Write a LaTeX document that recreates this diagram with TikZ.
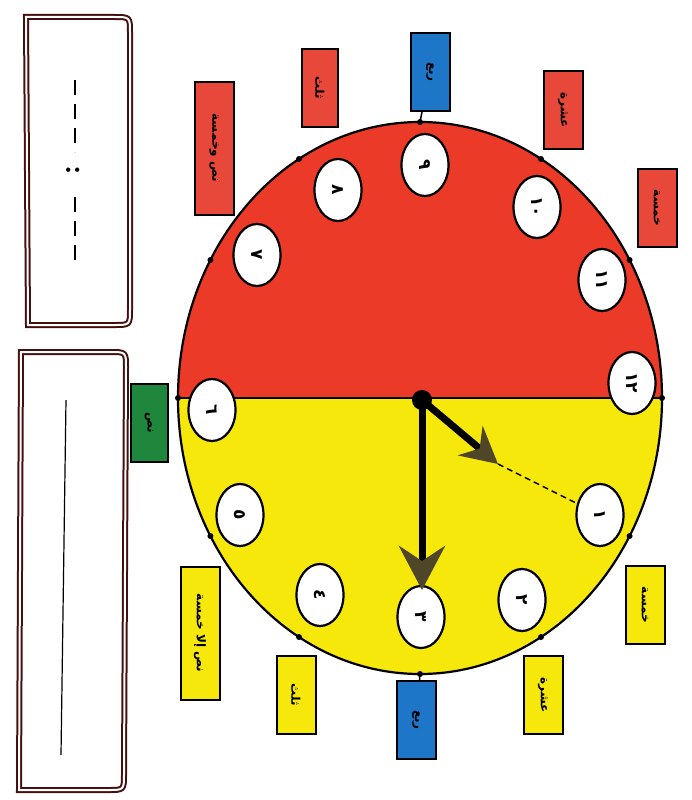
\documentclass[tikz,border=0pt]{standalone}
\usepackage{fontspec}
\newfontfamily\arabicfont[Script=Arabic]{DejaVu Sans}
\TeXXeTstate=1
\usetikzlibrary{arrows.meta,positioning,shapes.geometric}
\definecolor{clockred}{RGB}{236,58,40}
\definecolor{clockyellow}{RGB}{247,232,12}
\definecolor{tagred}{RGB}{232,72,58}
\definecolor{tagblue}{RGB}{30,118,200}
\definecolor{taggreen}{RGB}{30,135,60}
\definecolor{handtip}{RGB}{78,70,38}
\definecolor{panelline}{RGB}{70,15,15}
\newcommand{\ar}[1]{{\arabicfont\beginR #1\endR}}

\begin{document}
\begin{tikzpicture}[x=1pt,y=-1pt,
  num/.style={ellipse,draw,line width=2.2pt,fill=white,minimum width=62pt,minimum height=47pt,inner sep=0pt,rotate=-90,font=\arabicfont\bfseries\fontsize{17}{17}\selectfont},
  tag/.style={draw,line width=2pt,minimum width=78pt,minimum height=39pt,inner sep=2pt,rotate=-90,font=\arabicfont\bfseries\fontsize{12}{12}\selectfont},
  tall/.style={tag,minimum width=133pt},
  panel/.style={draw=panelline,double=white,double distance=2pt,line width=2pt},
  hand/.style={line width=7pt,-{Stealth[length=44pt,width=46pt,inset=15pt,color=handtip]}}]
\useasboundingbox (0,0) rectangle (691,800);

% left panels
\draw[panel] (26,17) -- (114,17) .. controls (130,17) .. (130,33) -- (130,309) .. controls (130,325) .. (114,325) -- (28,325) -- cycle;
\draw[line width=1.8pt,dash pattern=on 15pt off 9pt] (75,80) -- (75,152);
\node[rotate=-90,font=\bfseries\fontsize{30}{30}\selectfont] (colon) at (73,170) {:};
\draw[line width=1.8pt,dash pattern=on 15pt off 9pt] (75,197) -- (75,265);
\draw[panel] (21,352) -- (110,352) .. controls (126,352) .. (126,368) -- (124,774) .. controls (124,790) .. (108,790) -- (19,790) -- cycle;
\draw[line width=1.2pt] (66,400) -- (61,755);

% clock face
\fill[clockred] (178,398) arc[start angle=180,end angle=360,x radius=242,y radius=276] -- cycle;
\fill[clockyellow] (178,398) arc[start angle=180,end angle=0,x radius=242,y radius=276] -- cycle;
\draw[line width=1.8pt] (178,398) -- (662,398);
\draw[line width=2.2pt] (420,398) ellipse[x radius=242,y radius=276];
\foreach \h in {1,...,12}{
  \coordinate (t\h) at ({420+242*cos(30*\h)},{398+276*sin(30*\h)});
  \fill (t\h) circle (3);
}

% hours
\node[num] (n12) at (632,383) {١٢};
\node[num] (n1) at (600,515) {١};
\node[num] (n2) at (522,600) {٢};
\node[num] (n3) at (421,617) {٣};
\node[num] (n4) at (320,595) {٤};
\node[num] (n5) at (240,515) {٥};
\node[num] (n6) at (212,410) {٦};
\node[num] (n7) at (257,255) {٧};
\node[num] (n8) at (338,190) {٨};
\node[num] (n9) at (425,165) {٩};
\node[num] (n10) at (537,207) {١٠};
\node[num] (n11) at (602,280) {١١};

% minute tags
\node[tag,fill=clockyellow] (tag1) at (645,605) {\ar{خمسة}};
\node[tag,fill=clockyellow] (tag2) at (543,695) {\ar{عشرة}};
\node[tag,fill=tagblue] (tag3) at (416,720) {\ar{ربع}};
\node[tag,fill=clockyellow] (tag4) at (296,695) {\ar{ثلث}};
\node[tall,fill=clockyellow] (tag5) at (200,633) {\ar{نص إلا خمسة}};
\node[tag,fill=taggreen,minimum height=37pt] (tag6) at (149,423) {\ar{نص}};
\node[tall,fill=tagred] (tag7) at (214,148) {\ar{نص وخمسة}};
\node[tag,fill=tagred,minimum height=36pt] (tag8) at (320,88) {\ar{ثلث}};
\node[tag,fill=tagblue] (tag9) at (430,72) {\ar{ربع}};
\node[tag,fill=tagred] (tag10) at (563,110) {\ar{عشرة}};
\node[tag,fill=tagred] (tag11) at (657,208) {\ar{خمسة}};
\draw[line width=1.5pt] (tag9) -- (t9);
\draw[line width=1.5pt] (tag3) -- (t3);

% hands
\coordinate (c) at (422,400);
\coordinate (mtip) at (422,590);
\coordinate (htip) at (498,464);
\draw[line width=1.4pt,dash pattern=on 6pt off 4pt] (htip) -- (n1);
\draw[hand] (c) -- (mtip);
\draw[hand,-{Stealth[length=36pt,width=38pt,inset=12pt,color=handtip]}] (c) -- (htip);
\fill (c) circle (10);
\end{tikzpicture}
\end{document}
